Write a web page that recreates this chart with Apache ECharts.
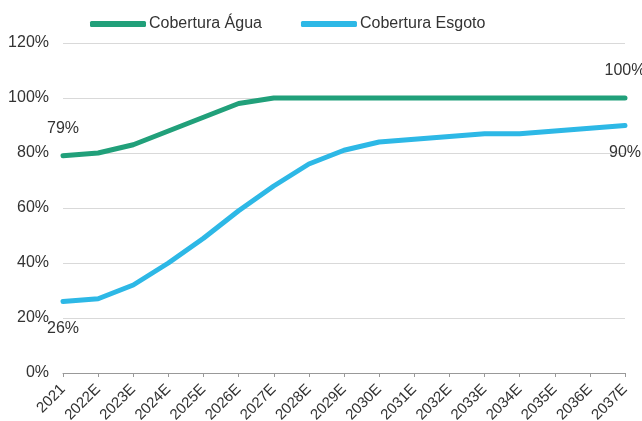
<!DOCTYPE html>
<html>
<head>
<meta charset="utf-8">
<script src="https://cdn.jsdelivr.net/npm/echarts@6/dist/echarts.min.js"></script>
<style>
  html, body { margin: 0; padding: 0; background: #fff; }
  #chart { width: 642px; height: 421px; }
</style>
</head>
<body>
<div id="chart"></div>
<script>
const years = ['2021', '2022E', '2023E', '2024E', '2025E', '2026E', '2027E', '2028E', '2029E',
  '2030E', '2031E', '2032E', '2033E', '2034E', '2035E', '2036E', '2037E']
const agua = [79, 80, 83, 88, 93, 98, 100, 100, 100, 100, 100, 100, 100, 100, 100, 100, 100]
const esgoto = [26, 27, 32, 40, 49, 59, 68, 76, 81, 84, 85, 86, 87, 87, 88, 89, 90]

const GREEN = '#21a07a'
const BLUE = '#2db8e6'
const TEXT = '#333333'
const FONT = 'Liberation Sans, Arial, sans-serif'

// only first and last point get a label
function withEndLabels(values, pos) {
  const last = values.length - 1
  return values.map((v, i) => {
    if (i !== 0 && i !== last) return v
    return {
      value: v,
      label: {
        show: true,
        position: pos,
        distance: 19,
        formatter: '{c}%',
        color: TEXT,
        fontSize: 16,
        fontFamily: FONT,
      },
    }
  })
}

const chart = echarts.init(document.getElementById('chart'))
chart.setOption({
  animation: false,
  textStyle: { fontFamily: FONT, color: TEXT },
  legend: {
    top: 11,
    left: 85,
    itemWidth: 56,
    itemHeight: 6,
    itemGap: 39,
    icon: 'roundRect',
    textStyle: { fontSize: 16, color: TEXT, padding: [0, 0, 0, -2] },
    data: ['Cobertura Água', 'Cobertura Esgoto'],
  },
  grid: { left: 63, right: 17, top: 43, bottom: 48, containLabel: false, outerBoundsMode: 'none' },
  xAxis: {
    type: 'category',
    data: years,
    boundaryGap: false,
    axisLine: { lineStyle: { color: '#999', width: 1 } },
    axisTick: { show: true, lineStyle: { color: '#999' }, length: 4 },
    axisLabel: { rotate: 45, fontSize: 15, color: TEXT, margin: 14, interval: 0 },
  },
  yAxis: {
    type: 'value',
    min: 0,
    max: 120,
    interval: 20,
    axisLine: { show: false },
    axisTick: { show: false },
    axisLabel: { formatter: '{value}%', fontSize: 16, color: TEXT, margin: 14 },
    splitLine: { lineStyle: { color: '#d9d9d9', width: 1 } },
  },
  series: [
    {
      name: 'Cobertura Água',
      type: 'line',
      data: withEndLabels(agua, 'top'),
      showSymbol: true,
      symbol: 'circle',
      symbolSize: 0,
      color: GREEN,
      lineStyle: { width: 5, color: GREEN, cap: 'round' },
    },
    {
      name: 'Cobertura Esgoto',
      type: 'line',
      data: withEndLabels(esgoto, 'bottom'),
      showSymbol: true,
      symbol: 'circle',
      symbolSize: 0,
      color: BLUE,
      lineStyle: { width: 5, color: BLUE, cap: 'round' },
    },
  ],
})
</script>
</body>
</html>
